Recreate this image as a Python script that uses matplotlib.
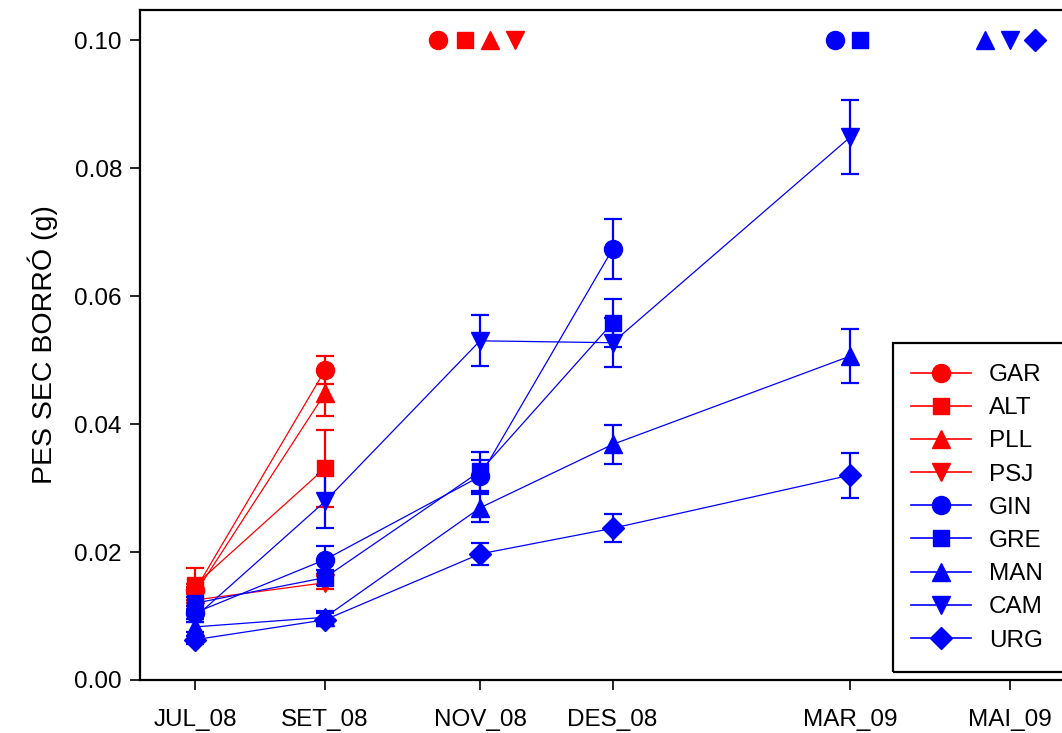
import matplotlib
matplotlib.use("Agg")
import matplotlib.pyplot as plt
from matplotlib.patches import Rectangle
from matplotlib.lines import Line2D

plt.rcParams['font.family'] = ['Liberation Sans', 'DejaVu Sans']

# Sampling dates (days since first sampling) and their labels
sample_days = [0, 52, 114, 167, 262, 326]
tick_labels = ['JUL_08', 'SET_08', 'NOV_08', 'DES_08', 'MAR_09', 'MAI_09']

series_names = ['GAR', 'ALT', 'PLL', 'PSJ', 'GIN', 'GRE', 'MAN', 'CAM', 'URG']
series_colors = ['red', 'red', 'red', 'red', 'blue', 'blue', 'blue', 'blue', 'blue']
series_markers = ['o', 's', '^', 'v', 'o', 's', '^', 'v', 'D']

gar_y = [0.0140, 0.0484]
gar_err = [0.0010, 0.0022]
alt_y = [0.0148, 0.0331]
alt_err = [0.0027, 0.0060]
pll_y = [0.0135, 0.0448]
pll_err = [0.0010, 0.0035]
psj_y = [0.0125, 0.0152]
psj_err = [0.0010, 0.0010]
gin_y = [0.0105, 0.0188, 0.0318, 0.0673]
gin_err = [0.0010, 0.0022, 0.0025, 0.0047]
gre_y = [0.0120, 0.0160, 0.0326, 0.0558]
gre_err = [0.0010, 0.0012, 0.0031, 0.0037]
man_y = [0.0083, 0.0098, 0.0269, 0.0368, 0.0506]
man_err = [0.0008, 0.0010, 0.0022, 0.0031, 0.0042]
cam_y = [0.0098, 0.0279, 0.0530, 0.0527, 0.0848]
cam_err = [0.0008, 0.0042, 0.0040, 0.0038, 0.0058]
urg_y = [0.0063, 0.0094, 0.0197, 0.0237, 0.0320]
urg_err = [0.0006, 0.0010, 0.0017, 0.0022, 0.0035]

series_y = [gar_y, alt_y, pll_y, psj_y, gin_y, gre_y, man_y, cam_y, urg_y]
series_err = [gar_err, alt_err, pll_err, psj_err, gin_err, gre_err, man_err, cam_err, urg_err]

# End-of-series symbols drawn along the top at y = 0.10
end_marker_y = 0.10
end_marker_x = [97, 108, 118, 128, 256, 266, 316, 326, 336]

fig = plt.figure(figsize=(10.62, 7.33), dpi=100)
ax = fig.add_axes([140/1062, 53/733, 930/1062, 670/733])

handles = []
for name, c, m, ys, es, ex in zip(series_names, series_colors, series_markers,
                                  series_y, series_err, end_marker_x):
    xs = sample_days[:len(ys)]
    ms = 11 if m in ('D', 's') else 13
    ax.errorbar(xs, ys, yerr=es, color=c, marker=m, markersize=ms, lw=0.9,
                elinewidth=1.6, capsize=6.5, capthick=1.6,
                markeredgecolor=c, zorder=3)
    ax.plot([ex], [end_marker_y], marker=m, color=c, markersize=ms,
            linestyle='none', clip_on=False, zorder=4)
    handles.append(Line2D([], [], color=c, marker=m, markersize=ms, lw=1.2,
                          label=name))

ax.set_xlim(-22, 350)
ax.set_ylim(0, 0.10469)
ax.set_xticks(sample_days)
ax.set_xticklabels(tick_labels)
ax.set_yticks([0, 0.02, 0.04, 0.06, 0.08, 0.10])
ax.set_yticklabels(['0.00', '0.02', '0.04', '0.06', '0.08', '0.10'])
ax.tick_params(direction='out', length=7, width=1.2, labelsize=17.5, pad=6)
ax.tick_params(axis='x', pad=14)
for s in ax.spines.values():
    s.set_linewidth(1.6)
ax.spines['right'].set_visible(False)
ax.set_ylabel('PES SEC BORRÓ (g)', fontsize=20.5, labelpad=12)

leg = ax.legend(handles=handles, loc='upper left',
                bbox_to_anchor=(911/1062, 1 - 364/733),
                bbox_transform=fig.transFigure, fontsize=17.5, frameon=False,
                labelspacing=0.46, handlelength=2.45, handletextpad=0.75,
                borderaxespad=0, borderpad=0.0)
fig.patches.append(Rectangle((893/1062, 1 - 672/733), 200/1062, 329/733,
                             transform=fig.transFigure, fill=False,
                             edgecolor='black', linewidth=1.6, zorder=5))

fig.savefig('out.png', dpi=100)
